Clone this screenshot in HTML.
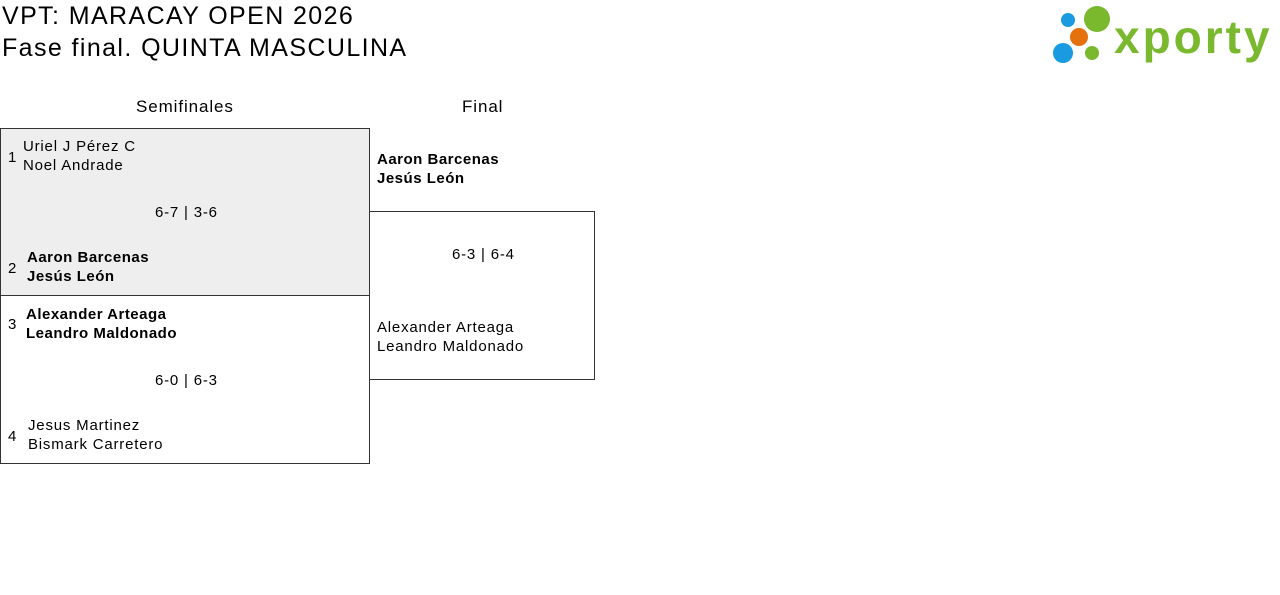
<!DOCTYPE html>
<html><head><meta charset="utf-8"><style>
body{margin:0;width:1280px;height:595px;background:#fff;font-family:"Liberation Sans",sans-serif;color:#000;position:relative;overflow:hidden}
.a{position:absolute;white-space:nowrap}
.t{font-size:25px;letter-spacing:1.4px;left:2px}
.h{font-size:17px;letter-spacing:0.9px}
.n{font-size:15px;line-height:19px;letter-spacing:0.8px}
.b{font-weight:bold;letter-spacing:0.5px}
.box{position:absolute;border:1px solid #333;box-sizing:border-box}
</style></head><body>
<div class="a t" style="top:2px">VPT: MARACAY OPEN 2026</div>
<div class="a t" style="top:34px">Fase final. QUINTA MASCULINA</div>
<svg class="a" style="left:1050px;top:4px" width="230" height="62">
<circle cx="18" cy="16" r="7" fill="#1a9ae0"/>
<circle cx="47" cy="15" r="13" fill="#7ab82e"/>
<circle cx="29" cy="33" r="9" fill="#e5700e"/>
<circle cx="13" cy="49" r="10" fill="#1a9ae0"/>
<circle cx="42" cy="49" r="7" fill="#7ab82e"/>
<text x="64" y="49" font-family="Liberation Sans" font-weight="bold" font-size="46" fill="#7ab82e" letter-spacing="3">xporty</text>
</svg>
<div class="a h" style="left:136px;top:97px">Semifinales</div>
<div class="a h" style="left:462px;top:97px">Final</div>
<div class="box" style="left:0;top:128px;width:370px;height:168px;background:#eee"></div>
<div class="box" style="left:0;top:295px;width:370px;height:169px"></div>
<div class="box" style="left:369px;top:211px;width:226px;height:169px"></div>
<div class="a n" style="left:8px;top:148px">1</div>
<div class="a n" style="left:23px;top:137px">Uriel J Pérez C<br>Noel Andrade</div>
<div class="a n" style="left:155px;top:203px">6-7 | 3-6</div>
<div class="a n" style="left:8px;top:259px">2</div>
<div class="a n b" style="left:27px;top:248px">Aaron Barcenas<br>Jesús León</div>
<div class="a n" style="left:8px;top:315px">3</div>
<div class="a n b" style="left:26px;top:305px">Alexander Arteaga<br>Leandro Maldonado</div>
<div class="a n" style="left:155px;top:371px">6-0 | 6-3</div>
<div class="a n" style="left:8px;top:427px">4</div>
<div class="a n" style="left:28px;top:416px">Jesus Martinez<br>Bismark Carretero</div>
<div class="a n b" style="left:377px;top:150px">Aaron Barcenas<br>Jesús León</div>
<div class="a n" style="left:452px;top:245px">6-3 | 6-4</div>
<div class="a n" style="left:377px;top:318px">Alexander Arteaga<br>Leandro Maldonado</div>
</body></html>
